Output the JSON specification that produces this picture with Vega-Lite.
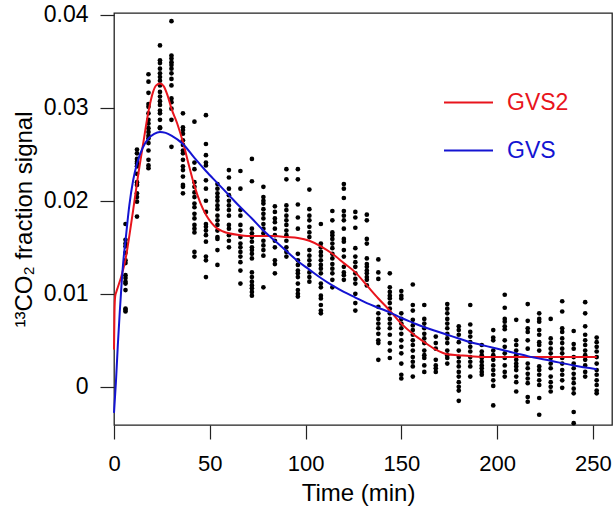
{
"$schema": "https://vega.github.io/schema/vega-lite/v6.json",
"width": 498, "height": 412,
"autosize": {"type": "none"},
"padding": {"left": 114, "top": 13, "right": 2, "bottom": 89},
"background": "white",
"config": {
  "view": {"stroke": "#222222", "strokeWidth": 1.3},
  "font": "Liberation Sans",
  "axis": {"grid": false, "domain": false, "tickColor": "#222222", "tickWidth": 1.2, "tickSize": 14,
    "labelFont": "Liberation Sans", "labelFontSize": 22, "labelColor": "black",
    "titleFont": "Liberation Sans", "titleFontSize": 24, "titleColor": "black", "titleFontWeight": "normal"}
},
"datasets": {
"obs": [
{"time":6,"signal":0.0175},{"time":6,"signal":0.0158},{"time":6,"signal":0.0154},{"time":6,"signal":0.0151},{"time":6,"signal":0.0144},{"time":6,"signal":0.0136},{"time":6,"signal":0.0133},{"time":6,"signal":0.0120},{"time":6,"signal":0.0117},{"time":6,"signal":0.0113},{"time":6,"signal":0.0111},{"time":6,"signal":0.0104},{"time":6,"signal":0.0084},{"time":6,"signal":0.0083},{"time":6,"signal":0.0081},
{"time":12,"signal":0.0255},{"time":12,"signal":0.0251},{"time":12,"signal":0.0245},{"time":12,"signal":0.0242},{"time":12,"signal":0.0240},{"time":12,"signal":0.0237},{"time":12,"signal":0.0229},{"time":12,"signal":0.0220},{"time":12,"signal":0.0217},{"time":12,"signal":0.0208},{"time":12,"signal":0.0204},{"time":12,"signal":0.0199},{"time":12,"signal":0.0183},
{"time":18,"signal":0.0336},{"time":18,"signal":0.0328},{"time":18,"signal":0.0316},{"time":18,"signal":0.0304},{"time":18,"signal":0.0301},{"time":18,"signal":0.0294},{"time":18,"signal":0.0287},{"time":18,"signal":0.0283},{"time":18,"signal":0.0278},{"time":18,"signal":0.0274},{"time":18,"signal":0.0270},{"time":18,"signal":0.0267},{"time":18,"signal":0.0262},{"time":18,"signal":0.0254},{"time":18,"signal":0.0244},{"time":18,"signal":0.0238},{"time":18,"signal":0.0235},
{"time":24,"signal":0.0367},{"time":24,"signal":0.0351},{"time":24,"signal":0.0348},{"time":24,"signal":0.0342},{"time":24,"signal":0.0337},{"time":24,"signal":0.0333},{"time":24,"signal":0.0329},{"time":24,"signal":0.0324},{"time":24,"signal":0.0317},{"time":24,"signal":0.0312},{"time":24,"signal":0.0307},{"time":24,"signal":0.0303},{"time":24,"signal":0.0297},{"time":24,"signal":0.0294},{"time":24,"signal":0.0287},{"time":24,"signal":0.0279},{"time":24,"signal":0.0278},
{"time":30,"signal":0.0393},{"time":30,"signal":0.0356},{"time":30,"signal":0.0353},{"time":30,"signal":0.0349},{"time":30,"signal":0.0346},{"time":30,"signal":0.0342},{"time":30,"signal":0.0337},{"time":30,"signal":0.0331},{"time":30,"signal":0.0324},{"time":30,"signal":0.0310},{"time":30,"signal":0.0306},{"time":30,"signal":0.0299},{"time":30,"signal":0.0287},{"time":30,"signal":0.0258},
{"time":36,"signal":0.0294},{"time":36,"signal":0.0279},{"time":36,"signal":0.0276},{"time":36,"signal":0.0272},{"time":36,"signal":0.0265},{"time":36,"signal":0.0260},{"time":36,"signal":0.0254},{"time":36,"signal":0.0251},{"time":36,"signal":0.0244},{"time":36,"signal":0.0237},{"time":36,"signal":0.0233},{"time":36,"signal":0.0226},{"time":36,"signal":0.0217},{"time":36,"signal":0.0215},{"time":36,"signal":0.0208},
{"time":42,"signal":0.0285},{"time":42,"signal":0.0241},{"time":42,"signal":0.0234},{"time":42,"signal":0.0220},{"time":42,"signal":0.0215},{"time":42,"signal":0.0209},{"time":42,"signal":0.0204},{"time":42,"signal":0.0197},{"time":42,"signal":0.0193},{"time":42,"signal":0.0186},{"time":42,"signal":0.0181},{"time":42,"signal":0.0174},{"time":42,"signal":0.0170},{"time":42,"signal":0.0166},{"time":42,"signal":0.0145},{"time":42,"signal":0.0140},
{"time":48,"signal":0.0292},{"time":48,"signal":0.0261},{"time":48,"signal":0.0249},{"time":48,"signal":0.0241},{"time":48,"signal":0.0238},{"time":48,"signal":0.0222},{"time":48,"signal":0.0213},{"time":48,"signal":0.0200},{"time":48,"signal":0.0188},{"time":48,"signal":0.0175},{"time":48,"signal":0.0172},{"time":48,"signal":0.0168},{"time":48,"signal":0.0163},{"time":48,"signal":0.0156},{"time":48,"signal":0.0140},{"time":48,"signal":0.0136},{"time":48,"signal":0.0118},
{"time":54,"signal":0.0218},{"time":54,"signal":0.0213},{"time":54,"signal":0.0208},{"time":54,"signal":0.0204},{"time":54,"signal":0.0200},{"time":54,"signal":0.0195},{"time":54,"signal":0.0191},{"time":54,"signal":0.0184},{"time":54,"signal":0.0179},{"time":54,"signal":0.0174},{"time":54,"signal":0.0168},{"time":54,"signal":0.0161},{"time":54,"signal":0.0159},{"time":54,"signal":0.0147},{"time":54,"signal":0.0131},
{"time":60,"signal":0.0233},{"time":60,"signal":0.0225},{"time":60,"signal":0.0213},{"time":60,"signal":0.0206},{"time":60,"signal":0.0200},{"time":60,"signal":0.0195},{"time":60,"signal":0.0190},{"time":60,"signal":0.0184},{"time":60,"signal":0.0174},{"time":60,"signal":0.0170},{"time":60,"signal":0.0163},{"time":60,"signal":0.0157},{"time":60,"signal":0.0150},
{"time":66,"signal":0.0232},{"time":66,"signal":0.0213},{"time":66,"signal":0.0190},{"time":66,"signal":0.0184},{"time":66,"signal":0.0174},{"time":66,"signal":0.0168},{"time":66,"signal":0.0161},{"time":66,"signal":0.0154},{"time":66,"signal":0.0150},{"time":66,"signal":0.0145},{"time":66,"signal":0.0140},{"time":66,"signal":0.0134},{"time":66,"signal":0.0125},{"time":66,"signal":0.0111},
{"time":72,"signal":0.0245},{"time":72,"signal":0.0221},{"time":72,"signal":0.0170},{"time":72,"signal":0.0165},{"time":72,"signal":0.0161},{"time":72,"signal":0.0156},{"time":72,"signal":0.0150},{"time":72,"signal":0.0147},{"time":72,"signal":0.0143},{"time":72,"signal":0.0138},{"time":72,"signal":0.0123},{"time":72,"signal":0.0118},{"time":72,"signal":0.0113},{"time":72,"signal":0.0109},{"time":72,"signal":0.0106},{"time":72,"signal":0.0102},{"time":72,"signal":0.0098},
{"time":78,"signal":0.0215},{"time":78,"signal":0.0204},{"time":78,"signal":0.0200},{"time":78,"signal":0.0197},{"time":78,"signal":0.0191},{"time":78,"signal":0.0186},{"time":78,"signal":0.0181},{"time":78,"signal":0.0175},{"time":78,"signal":0.0170},{"time":78,"signal":0.0165},{"time":78,"signal":0.0157},{"time":78,"signal":0.0152},{"time":78,"signal":0.0147},{"time":78,"signal":0.0141},{"time":78,"signal":0.0107},
{"time":84,"signal":0.0194},{"time":84,"signal":0.0188},{"time":84,"signal":0.0181},{"time":84,"signal":0.0177},{"time":84,"signal":0.0170},{"time":84,"signal":0.0163},{"time":84,"signal":0.0157},{"time":84,"signal":0.0150},{"time":84,"signal":0.0136},{"time":84,"signal":0.0132},{"time":84,"signal":0.0122},
{"time":90,"signal":0.0234},{"time":90,"signal":0.0223},{"time":90,"signal":0.0195},{"time":90,"signal":0.0190},{"time":90,"signal":0.0184},{"time":90,"signal":0.0179},{"time":90,"signal":0.0174},{"time":90,"signal":0.0168},{"time":90,"signal":0.0163},{"time":90,"signal":0.0157},{"time":90,"signal":0.0150},{"time":90,"signal":0.0145},{"time":90,"signal":0.0140},
{"time":96,"signal":0.0234},{"time":96,"signal":0.0223},{"time":96,"signal":0.0196},{"time":96,"signal":0.0182},{"time":96,"signal":0.0170},{"time":96,"signal":0.0143},{"time":96,"signal":0.0136},{"time":96,"signal":0.0131},{"time":96,"signal":0.0125},{"time":96,"signal":0.0122},{"time":96,"signal":0.0118},{"time":96,"signal":0.0111},{"time":96,"signal":0.0104},{"time":96,"signal":0.0100},{"time":96,"signal":0.0097},
{"time":102,"signal":0.0212},{"time":102,"signal":0.0191},{"time":102,"signal":0.0184},{"time":102,"signal":0.0179},{"time":102,"signal":0.0172},{"time":102,"signal":0.0166},{"time":102,"signal":0.0161},{"time":102,"signal":0.0147},{"time":102,"signal":0.0141},{"time":102,"signal":0.0136},{"time":102,"signal":0.0131},{"time":102,"signal":0.0123},{"time":102,"signal":0.0118},{"time":102,"signal":0.0113},
{"time":108,"signal":0.0175},{"time":108,"signal":0.0154},{"time":108,"signal":0.0150},{"time":108,"signal":0.0145},{"time":108,"signal":0.0141},{"time":108,"signal":0.0136},{"time":108,"signal":0.0131},{"time":108,"signal":0.0127},{"time":108,"signal":0.0122},{"time":108,"signal":0.0111},{"time":108,"signal":0.0107},{"time":108,"signal":0.0098},{"time":108,"signal":0.0095},{"time":108,"signal":0.0088},{"time":108,"signal":0.0082},{"time":108,"signal":0.0079},
{"time":114,"signal":0.0189},{"time":114,"signal":0.0179},{"time":114,"signal":0.0166},{"time":114,"signal":0.0163},{"time":114,"signal":0.0159},{"time":114,"signal":0.0154},{"time":114,"signal":0.0149},{"time":114,"signal":0.0143},{"time":114,"signal":0.0138},{"time":114,"signal":0.0132},{"time":114,"signal":0.0127},{"time":114,"signal":0.0122},{"time":114,"signal":0.0115},{"time":114,"signal":0.0107},
{"time":120,"signal":0.0218},{"time":120,"signal":0.0213},{"time":120,"signal":0.0203},{"time":120,"signal":0.0189},{"time":120,"signal":0.0184},{"time":120,"signal":0.0179},{"time":120,"signal":0.0170},{"time":120,"signal":0.0159},{"time":120,"signal":0.0156},{"time":120,"signal":0.0147},{"time":120,"signal":0.0140},{"time":120,"signal":0.0129},{"time":120,"signal":0.0123},{"time":120,"signal":0.0120},{"time":120,"signal":0.0115},
{"time":126,"signal":0.0188},{"time":126,"signal":0.0182},{"time":126,"signal":0.0171},{"time":126,"signal":0.0149},{"time":126,"signal":0.0140},{"time":126,"signal":0.0134},{"time":126,"signal":0.0129},{"time":126,"signal":0.0122},{"time":126,"signal":0.0116},{"time":126,"signal":0.0111},{"time":126,"signal":0.0100},{"time":126,"signal":0.0090},{"time":126,"signal":0.0082},
{"time":132,"signal":0.0185},{"time":132,"signal":0.0179},{"time":132,"signal":0.0159},{"time":132,"signal":0.0154},{"time":132,"signal":0.0138},{"time":132,"signal":0.0132},{"time":132,"signal":0.0129},{"time":132,"signal":0.0125},{"time":132,"signal":0.0122},{"time":132,"signal":0.0118},{"time":132,"signal":0.0115},{"time":132,"signal":0.0109},
{"time":138,"signal":0.0137},{"time":138,"signal":0.0123},{"time":138,"signal":0.0116},{"time":138,"signal":0.0086},{"time":138,"signal":0.0079},{"time":138,"signal":0.0073},{"time":138,"signal":0.0068},{"time":138,"signal":0.0063},{"time":138,"signal":0.0057},{"time":138,"signal":0.0050},{"time":138,"signal":0.0047},{"time":138,"signal":0.0029},
{"time":144,"signal":0.0122},{"time":144,"signal":0.0107},{"time":144,"signal":0.0102},{"time":144,"signal":0.0098},{"time":144,"signal":0.0095},{"time":144,"signal":0.0090},{"time":144,"signal":0.0084},{"time":144,"signal":0.0079},{"time":144,"signal":0.0073},{"time":144,"signal":0.0068},{"time":144,"signal":0.0063},{"time":144,"signal":0.0056},{"time":144,"signal":0.0047},{"time":144,"signal":0.0039},{"time":144,"signal":0.0031},
{"time":150,"signal":0.0103},{"time":150,"signal":0.0098},{"time":150,"signal":0.0095},{"time":150,"signal":0.0079},{"time":150,"signal":0.0073},{"time":150,"signal":0.0068},{"time":150,"signal":0.0063},{"time":150,"signal":0.0057},{"time":150,"signal":0.0050},{"time":150,"signal":0.0043},{"time":150,"signal":0.0036},{"time":150,"signal":0.0025},{"time":150,"signal":0.0013},{"time":150,"signal":0.0009},
{"time":156,"signal":0.0110},{"time":156,"signal":0.0088},{"time":156,"signal":0.0082},{"time":156,"signal":0.0072},{"time":156,"signal":0.0066},{"time":156,"signal":0.0061},{"time":156,"signal":0.0056},{"time":156,"signal":0.0050},{"time":156,"signal":0.0045},{"time":156,"signal":0.0039},{"time":156,"signal":0.0032},{"time":156,"signal":0.0027},{"time":156,"signal":0.0022},{"time":156,"signal":0.0011},
{"time":162,"signal":0.0088},{"time":162,"signal":0.0073},{"time":162,"signal":0.0068},{"time":162,"signal":0.0063},{"time":162,"signal":0.0057},{"time":162,"signal":0.0052},{"time":162,"signal":0.0047},{"time":162,"signal":0.0039},{"time":162,"signal":0.0034},{"time":162,"signal":0.0031},{"time":162,"signal":0.0023},{"time":162,"signal":0.0016},
{"time":168,"signal":0.0054},{"time":168,"signal":0.0047},{"time":168,"signal":0.0041},{"time":168,"signal":0.0029},{"time":168,"signal":0.0023},{"time":168,"signal":0.0020},{"time":168,"signal":0.0016},
{"time":174,"signal":0.0089},{"time":174,"signal":0.0084},{"time":174,"signal":0.0079},{"time":174,"signal":0.0073},{"time":174,"signal":0.0068},{"time":174,"signal":0.0063},{"time":174,"signal":0.0057},{"time":174,"signal":0.0052},{"time":174,"signal":0.0047},{"time":174,"signal":0.0039},{"time":174,"signal":0.0034},{"time":174,"signal":0.0031},{"time":174,"signal":0.0025},
{"time":180,"signal":0.0065},{"time":180,"signal":0.0061},{"time":180,"signal":0.0056},{"time":180,"signal":0.0048},{"time":180,"signal":0.0039},{"time":180,"signal":0.0032},{"time":180,"signal":0.0027},{"time":180,"signal":0.0022},{"time":180,"signal":0.0016},{"time":180,"signal":0.0011},{"time":180,"signal":0.0005},{"time":180,"signal":0.0000},{"time":180,"signal":-0.0004},{"time":180,"signal":-0.0015},
{"time":186,"signal":0.0088},{"time":186,"signal":0.0067},{"time":186,"signal":0.0059},{"time":186,"signal":0.0054},{"time":186,"signal":0.0048},{"time":186,"signal":0.0043},{"time":186,"signal":0.0038},{"time":186,"signal":0.0032},{"time":186,"signal":0.0027},{"time":186,"signal":0.0022},{"time":186,"signal":0.0011},
{"time":192,"signal":0.0045},{"time":192,"signal":0.0038},{"time":192,"signal":0.0034},{"time":192,"signal":0.0031},{"time":192,"signal":0.0027},{"time":192,"signal":0.0023},{"time":192,"signal":0.0020},{"time":192,"signal":0.0016},{"time":192,"signal":0.0013},
{"time":198,"signal":0.0061},{"time":198,"signal":0.0053},{"time":198,"signal":0.0050},{"time":198,"signal":0.0039},{"time":198,"signal":0.0034},{"time":198,"signal":0.0029},{"time":198,"signal":0.0023},{"time":198,"signal":0.0018},{"time":198,"signal":0.0013},{"time":198,"signal":0.0007},{"time":198,"signal":0.0001},{"time":198,"signal":-0.0020},
{"time":204,"signal":0.0099},{"time":204,"signal":0.0085},{"time":204,"signal":0.0073},{"time":204,"signal":0.0070},{"time":204,"signal":0.0065},{"time":204,"signal":0.0062},{"time":204,"signal":0.0050},{"time":204,"signal":0.0043},{"time":204,"signal":0.0036},{"time":204,"signal":0.0031},{"time":204,"signal":0.0023},{"time":204,"signal":0.0016},{"time":204,"signal":0.0011},
{"time":210,"signal":0.0072},{"time":210,"signal":0.0050},{"time":210,"signal":0.0045},{"time":210,"signal":0.0039},{"time":210,"signal":0.0034},{"time":210,"signal":0.0029},{"time":210,"signal":0.0025},{"time":210,"signal":0.0022},{"time":210,"signal":0.0018},{"time":210,"signal":0.0011},{"time":210,"signal":0.0005},{"time":210,"signal":-0.0005},
{"time":216,"signal":0.0089},{"time":216,"signal":0.0071},{"time":216,"signal":0.0063},{"time":216,"signal":0.0059},{"time":216,"signal":0.0050},{"time":216,"signal":0.0041},{"time":216,"signal":0.0025},{"time":216,"signal":0.0020},{"time":216,"signal":0.0014},{"time":216,"signal":0.0009},{"time":216,"signal":0.0004},{"time":216,"signal":-0.0011},{"time":216,"signal":-0.0016},
{"time":222,"signal":0.0079},{"time":222,"signal":0.0073},{"time":222,"signal":0.0070},{"time":222,"signal":0.0061},{"time":222,"signal":0.0056},{"time":222,"signal":0.0048},{"time":222,"signal":0.0045},{"time":222,"signal":0.0039},{"time":222,"signal":0.0022},{"time":222,"signal":0.0018},{"time":222,"signal":0.0013},{"time":222,"signal":0.0007},{"time":222,"signal":0.0002},{"time":222,"signal":-0.0012},{"time":222,"signal":-0.0030},
{"time":228,"signal":0.0073},{"time":228,"signal":0.0052},{"time":228,"signal":0.0047},{"time":228,"signal":0.0041},{"time":228,"signal":0.0036},{"time":228,"signal":0.0031},{"time":228,"signal":0.0025},{"time":228,"signal":0.0020},{"time":228,"signal":0.0011},{"time":228,"signal":0.0005},{"time":228,"signal":0.0000},{"time":228,"signal":-0.0005},
{"time":234,"signal":0.0092},{"time":234,"signal":0.0081},{"time":234,"signal":0.0063},{"time":234,"signal":0.0059},{"time":234,"signal":0.0052},{"time":234,"signal":0.0047},{"time":234,"signal":0.0041},{"time":234,"signal":0.0036},{"time":234,"signal":0.0031},{"time":234,"signal":0.0025},{"time":234,"signal":0.0018},{"time":234,"signal":0.0013},{"time":234,"signal":0.0007},{"time":234,"signal":-0.0001},
{"time":240,"signal":0.0060},{"time":240,"signal":0.0046},{"time":240,"signal":0.0041},{"time":240,"signal":0.0032},{"time":240,"signal":0.0025},{"time":240,"signal":0.0020},{"time":240,"signal":0.0014},{"time":240,"signal":0.0009},{"time":240,"signal":0.0004},{"time":240,"signal":-0.0002},{"time":240,"signal":-0.0007},{"time":240,"signal":-0.0027},{"time":240,"signal":-0.0039},
{"time":246,"signal":0.0091},{"time":246,"signal":0.0079},{"time":246,"signal":0.0065},{"time":246,"signal":0.0056},{"time":246,"signal":0.0050},{"time":246,"signal":0.0045},{"time":246,"signal":0.0039},{"time":246,"signal":0.0034},{"time":246,"signal":0.0029},{"time":246,"signal":0.0023},{"time":246,"signal":0.0016},{"time":246,"signal":0.0011},
{"time":252,"signal":0.0053},{"time":252,"signal":0.0048},{"time":252,"signal":0.0043},{"time":252,"signal":0.0038},{"time":252,"signal":0.0032},{"time":252,"signal":0.0025},{"time":252,"signal":0.0018},{"time":252,"signal":0.0013},{"time":252,"signal":0.0007},{"time":252,"signal":0.0002},{"time":252,"signal":-0.0004},{"time":252,"signal":-0.0007}
],
"fits": [
{"model":"GVS2","time":0,"signal":0.0040},{"model":"GVS2","time":0.25,"signal":0.0080},{"model":"GVS2","time":0.6,"signal":0.0097},{"model":"GVS2","time":1.2,"signal":0.0102},{"model":"GVS2","time":2,"signal":0.0107},{"model":"GVS2","time":4,"signal":0.0120},{"model":"GVS2","time":6,"signal":0.0137},{"model":"GVS2","time":8.2,"signal":0.0165},{"model":"GVS2","time":10,"signal":0.0190},{"model":"GVS2","time":12,"signal":0.0219},{"model":"GVS2","time":15.2,"signal":0.0261},{"model":"GVS2","time":18,"signal":0.0296},{"model":"GVS2","time":20.4,"signal":0.0317},{"model":"GVS2","time":22,"signal":0.0324},{"model":"GVS2","time":24,"signal":0.0326},{"model":"GVS2","time":26,"signal":0.0323},{"model":"GVS2","time":28,"signal":0.0313},{"model":"GVS2","time":30,"signal":0.0299},{"model":"GVS2","time":33,"signal":0.0283},{"model":"GVS2","time":36,"signal":0.0263},{"model":"GVS2","time":39,"signal":0.0239},{"model":"GVS2","time":42,"signal":0.0216},{"model":"GVS2","time":45,"signal":0.0198},{"model":"GVS2","time":48,"signal":0.0185},{"model":"GVS2","time":51,"signal":0.0176},{"model":"GVS2","time":54,"signal":0.0170},{"model":"GVS2","time":57,"signal":0.0167},{"model":"GVS2","time":60,"signal":0.0165},{"model":"GVS2","time":66,"signal":0.0163},{"model":"GVS2","time":72,"signal":0.0162},{"model":"GVS2","time":78,"signal":0.0162},{"model":"GVS2","time":84,"signal":0.0162},{"model":"GVS2","time":90,"signal":0.0161},{"model":"GVS2","time":96,"signal":0.0160},{"model":"GVS2","time":102,"signal":0.0157},{"model":"GVS2","time":108,"signal":0.0151},{"model":"GVS2","time":114,"signal":0.0143},{"model":"GVS2","time":120,"signal":0.0133},{"model":"GVS2","time":126,"signal":0.0123},{"model":"GVS2","time":132,"signal":0.0109},{"model":"GVS2","time":138,"signal":0.0095},{"model":"GVS2","time":144,"signal":0.0082},{"model":"GVS2","time":150,"signal":0.0068},{"model":"GVS2","time":156,"signal":0.0057},{"model":"GVS2","time":162,"signal":0.0048},{"model":"GVS2","time":168,"signal":0.0040},{"model":"GVS2","time":174,"signal":0.0035},{"model":"GVS2","time":180,"signal":0.0034},{"model":"GVS2","time":186,"signal":0.0033},{"model":"GVS2","time":195,"signal":0.0032},{"model":"GVS2","time":210,"signal":0.0032},{"model":"GVS2","time":230,"signal":0.0032},{"model":"GVS2","time":252,"signal":0.0032},
{"model":"GVS","time":0,"signal":-0.0028},{"model":"GVS","time":1,"signal":0.0005},{"model":"GVS","time":2,"signal":0.0045},{"model":"GVS","time":3,"signal":0.0080},{"model":"GVS","time":4,"signal":0.0112},{"model":"GVS","time":5,"signal":0.0138},{"model":"GVS","time":6,"signal":0.0157},{"model":"GVS","time":8,"signal":0.0195},{"model":"GVS","time":10,"signal":0.0222},{"model":"GVS","time":12,"signal":0.0240},{"model":"GVS","time":15,"signal":0.0257},{"model":"GVS","time":18,"signal":0.0267},{"model":"GVS","time":21,"signal":0.0272},{"model":"GVS","time":24,"signal":0.0274},{"model":"GVS","time":27,"signal":0.0273},{"model":"GVS","time":30,"signal":0.0270},{"model":"GVS","time":36,"signal":0.0261},{"model":"GVS","time":42,"signal":0.0246},{"model":"GVS","time":48,"signal":0.0232},{"model":"GVS","time":54,"signal":0.0219},{"model":"GVS","time":60,"signal":0.0206},{"model":"GVS","time":66,"signal":0.0193},{"model":"GVS","time":72,"signal":0.0181},{"model":"GVS","time":78,"signal":0.0168},{"model":"GVS","time":84,"signal":0.0157},{"model":"GVS","time":90,"signal":0.0146},{"model":"GVS","time":96,"signal":0.0135},{"model":"GVS","time":102,"signal":0.0126},{"model":"GVS","time":108,"signal":0.0117},{"model":"GVS","time":114,"signal":0.0109},{"model":"GVS","time":120,"signal":0.0102},{"model":"GVS","time":126,"signal":0.0096},{"model":"GVS","time":132,"signal":0.0090},{"model":"GVS","time":138,"signal":0.0085},{"model":"GVS","time":144,"signal":0.0080},{"model":"GVS","time":150,"signal":0.0074},{"model":"GVS","time":156,"signal":0.0069},{"model":"GVS","time":162,"signal":0.0064},{"model":"GVS","time":168,"signal":0.0060},{"model":"GVS","time":174,"signal":0.0056},{"model":"GVS","time":180,"signal":0.0052},{"model":"GVS","time":186,"signal":0.0048},{"model":"GVS","time":192,"signal":0.0045},{"model":"GVS","time":198,"signal":0.0042},{"model":"GVS","time":204,"signal":0.0039},{"model":"GVS","time":210,"signal":0.0036},{"model":"GVS","time":216,"signal":0.0033},{"model":"GVS","time":228,"signal":0.0028},{"model":"GVS","time":240,"signal":0.0023},{"model":"GVS","time":252,"signal":0.0019}
]
},
"layer": [
{
  "data": {"name": "obs"},
  "mark": {"type": "circle", "size": 22, "color": "black", "opacity": 1},
  "encoding": {
    "x": {"field": "time", "type": "quantitative", "scale": {"domain": [0, 260], "nice": false, "zero": false},
      "axis": {"values": [0, 50, 100, 150, 200, 250], "title": "Time (min)", "labelFlush": false, "labelBaseline": "alphabetic", "labelPadding": 31, "titleBaseline": "alphabetic", "titleX": 244, "titleY": 75}},
    "y": {"field": "signal", "type": "quantitative", "scale": {"domain": [-0.0041, 0.04018], "nice": false, "zero": false},
      "axis": {"values": [0, 0.01, 0.02, 0.03, 0.04], "format": ".2~f", "title": "¹³CO₂ fraction signal", "labelFontSize": 23, "labelPadding": 12, "titleBaseline": "alphabetic", "titleX": -83, "titleY": 206}}
  }
},
{
  "data": {"name": "fits"},
  "mark": {"type": "line", "strokeWidth": 2, "interpolate": "monotone"},
  "encoding": {
    "x": {"field": "time", "type": "quantitative",
      "axis": {"values": [0, 50, 100, 150, 200, 250], "title": "Time (min)", "labelFlush": false, "labelBaseline": "alphabetic", "labelPadding": 31, "titleBaseline": "alphabetic", "titleX": 244, "titleY": 75}},
    "y": {"field": "signal", "type": "quantitative",
      "axis": {"values": [0, 0.01, 0.02, 0.03, 0.04], "format": ".2~f", "title": "¹³CO₂ fraction signal", "labelFontSize": 23, "labelPadding": 12, "titleBaseline": "alphabetic", "titleX": -83, "titleY": 206}},
    "color": {"field": "model", "type": "nominal",
      "scale": {"domain": ["GVS2", "GVS"], "range": ["#e8141c", "#1414d2"]},
      "legend": {"title": null, "orient": "none", "legendX": 329, "legendY": 64, "padding": 0,
        "symbolType": "stroke", "symbolSize": 2401, "symbolStrokeWidth": 2,
        "labelFont": "Liberation Sans", "labelFontSize": 23, "labelOffset": 13, "rowPadding": 10,
        "encode": {"labels": {"update": {"fill": {"signal": "datum.value === 'GVS2' ? '#e8141c' : '#1414d2'"}}}}}}
  }
}
]
}
